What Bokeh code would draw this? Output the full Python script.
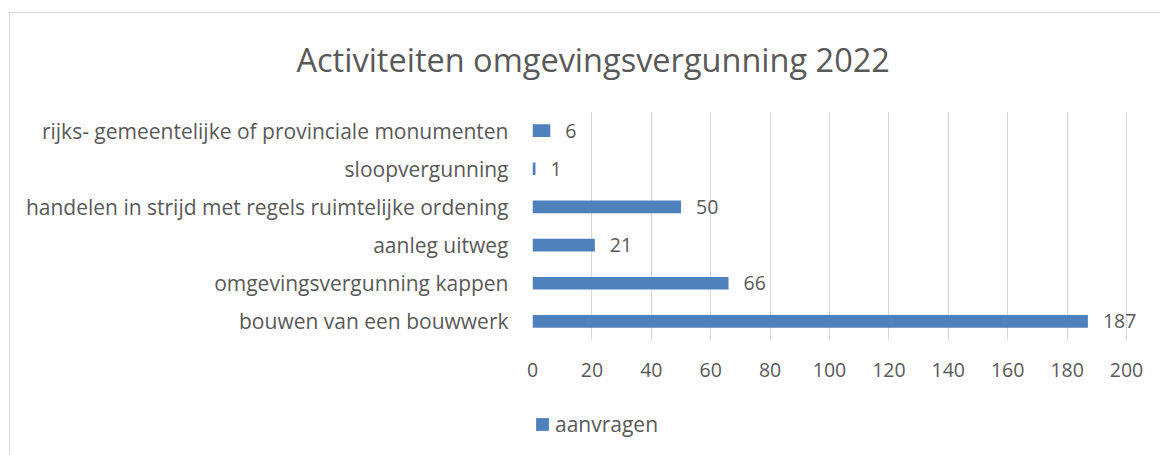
from bokeh.plotting import figure
from bokeh.models import (Range1d, FactorRange, FixedTicker, ColumnDataSource, LabelSet,
                          Legend, LegendItem, InlineStyleSheet)
from bokeh.layouts import column
from bokeh.core.properties import value
from bokeh.embed import file_html
from bokeh.resources import INLINE

# ---- data (top to bottom as in the reference) ----
categories = [
    "rijks- gemeentelijke of provinciale monumenten",
    "sloopvergunning",
    "handelen in strijd met regels ruimtelijke ordening",
    "aanleg uitweg",
    "omgevingsvergunning kappen",
    "bouwen van een bouwwerk",
]
aanvragen = [6, 1, 50, 21, 66, 187]
x_ticks = [0, 20, 40, 60, 80, 100, 120, 140, 160, 180, 200]
title_text = "Activiteiten omgevingsvergunning 2022"
series_name = "aanvragen"

FONT = "Open Sans"
GREY = "#595959"
BLUE = "#4F81BD"
GRID = "#D9D9D9"

factors = list(reversed(categories))
src = ColumnDataSource(dict(cat=categories, val=aanvragen,
                            lab=[str(v) for v in aanvragen]))

# ---------------- main chart ----------------
p = figure(width=1160, height=400, output_backend="svg", toolbar_location=None,
           y_range=FactorRange(factors=factors, range_padding=0),
           x_range=Range1d(0, 210.1))
p.stylesheets = [InlineStyleSheet(css=(
    ":host { position: relative; }"
    ":host::after { content: ''; position: absolute; left: 9px; top: 12px; right: 0; bottom: 0;"
    f" border-left: 1px solid {GRID}; border-top: 1px solid {GRID};"
    " pointer-events: none; z-index: 10; }"))]
p.min_border_left = 532
p.min_border_right = 4
p.min_border_top = 111
p.min_border_bottom = 60
p.outline_line_color = None
p.background_fill_color = "white"
p.border_fill_color = "white"

r = p.hbar(y="cat", right="val", left=0, height=0.33, source=src,
           fill_color=BLUE, line_color=None)

p.ygrid.grid_line_color = None
p.xgrid.ticker = FixedTicker(ticks=x_ticks)
p.xgrid.grid_line_color = GRID
p.xgrid.grid_line_width = 1

p.xaxis.ticker = FixedTicker(ticks=x_ticks)
p.xaxis.axis_line_color = None
p.xaxis.major_tick_line_color = None
p.xaxis.minor_tick_line_color = None
p.xaxis.major_label_text_font = FONT
p.xaxis.major_label_text_font_size = "19.5px"
p.xaxis.major_label_text_color = GREY
p.xaxis.major_label_standoff = 16

p.yaxis.axis_line_color = None
p.yaxis.major_tick_line_color = None
p.yaxis.minor_tick_line_color = None
p.yaxis.major_label_text_font = FONT
p.yaxis.major_label_text_font_size = "21px"
p.yaxis.major_label_text_color = GREY
p.yaxis.major_label_standoff = 18

labels = LabelSet(x="val", y="cat", text="lab", source=src, x_offset=15,
                  text_baseline="middle", text_font=value(FONT),
                  text_font_size=value("19.5px"), text_color=GREY)
p.add_layout(labels)

p.title.text = title_text
p.title.align = "left"
p.title.offset = -236
p.title.standoff = 59
p.title.text_font = FONT
p.title.text_font_size = "32.5px"
p.title.text_font_style = "normal"
p.title.text_color = GREY

# ---------------- legend strip ----------------
p2 = figure(width=1160, height=55, output_backend="svg", toolbar_location=None,
            x_range=Range1d(0, 1), y_range=Range1d(0, 1))
p2.stylesheets = [InlineStyleSheet(css=(
    ":host { position: relative; }"
    ":host::after { content: ''; position: absolute; left: 9px; top: 0; right: 0; bottom: 0;"
    f" border-left: 1px solid {GRID}; pointer-events: none; z-index: 10; }}".replace("}}", "}")))]
p2.min_border = 0
p2.axis.visible = False
p2.grid.visible = False
p2.outline_line_color = None
p2.background_fill_color = "white"
p2.border_fill_color = "white"
# swatch renderer for the legend (its single bar lies outside the visible range)
r2 = p2.hbar(y="y", right="right", left=0, height=0.33,
             source=ColumnDataSource(dict(y=[-5], right=[1])),
             fill_color=BLUE, line_color=None)

leg = Legend(items=[LegendItem(label=series_name, renderers=[r2])],
             location=(2, 17), orientation="horizontal",
             glyph_width=16, glyph_height=16, label_standoff=5,
             label_text_font=FONT, label_text_font_size="21px",
             label_text_color=GREY, padding=0, margin=0,
             border_line_color=None, background_fill_alpha=0)
p2.add_layout(leg)

layout = column(p, p2, spacing=0)
open("out.html", "w").write(file_html(layout, INLINE))
